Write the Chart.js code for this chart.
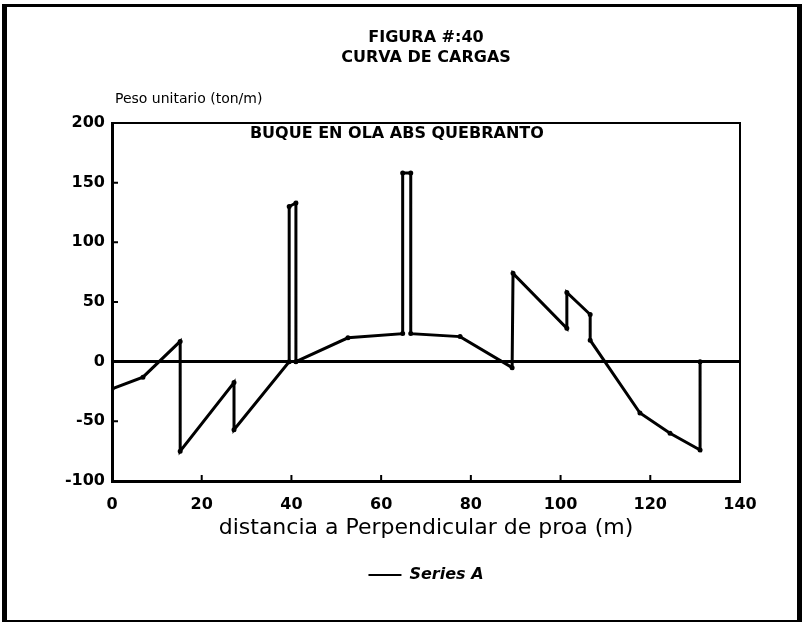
<!DOCTYPE html>
<html>
<head>
<meta charset="utf-8">
<script src="https://cdn.jsdelivr.net/npm/chart.js@4.4.0/dist/chart.umd.min.js"></script>
<style>
  body { margin: 0; background: #fff; }
  #wrap { position: relative; width: 804px; height: 624px; }
  #frame {
    position: absolute; left: 2px; top: 4px; width: 800px; height: 618px;
    box-sizing: border-box; pointer-events: none;
    border-left: 5px solid #000; border-top: 3px solid #000;
    border-right: 5px solid #000; border-bottom: 2px solid #000;
  }
</style>
</head>
<body>
<div id="wrap">
  <canvas id="Curva_Cargas" width="804" height="624"></canvas>
  <div id="frame"></div>
</div>
<script>
// Curva de cargas
const distance = [0, 6.9, 15.2, 15.2, 27.2, 27.2, 39.5, 39.5, 41.0, 41.0, 52.6, 64.8, 64.8, 66.6, 66.6, 77.6, 89.2, 89.4, 101.4, 101.4, 106.6, 106.6, 117.7, 124.4, 131.1, 131.1];
const load = [-22.7, -13, 17, -75, -17.5, -57, 0, 130, 133, 0, 20, 23.5, 158, 158, 23.5, 21, -5, 74, 28, 58, 39.5, 18, -43, -60, -74, 0];

const titleLines = ['FIGURA #:40', 'CURVA DE CARGAS'];
const yLabel = 'Peso unitario (ton/m)';
const xLabel = 'distancia a Perpendicular de proa (m)';
const note = 'BUQUE EN OLA ABS QUEBRANTO';
const seriesName = 'Series A';

const points = distance.map((d, i) => ({ x: d, y: load[i] }));

// frame top/right, inward tick marks, y label and note
const decor = {
    id: 'decor',
    afterDraw(chart) {
        const { ctx, chartArea: a, scales: { x, y } } = chart;
        ctx.save();
        ctx.strokeStyle = '#000';
        ctx.fillStyle = '#000';
        ctx.lineWidth = 2;
        ctx.beginPath();
        ctx.moveTo(a.left, a.top);
        ctx.lineTo(a.right, a.top);
        ctx.lineTo(a.right, a.bottom);
        ctx.stroke();

        ctx.beginPath();
        x.ticks.forEach(t => {
            if (t.value > x.min && t.value < x.max) {
                const px = x.getPixelForValue(t.value);
                ctx.moveTo(px, a.bottom);
                ctx.lineTo(px, a.bottom - 6);
            }
        });
        y.ticks.forEach(t => {
            if (t.value > y.min && t.value < y.max) {
                const py = y.getPixelForValue(t.value);
                ctx.moveTo(a.left, py);
                ctx.lineTo(a.left + 6, py);
            }
        });
        ctx.stroke();

        ctx.font = '14px "DejaVu Sans"';
        ctx.textAlign = 'left';
        ctx.textBaseline = 'alphabetic';
        ctx.fillText(yLabel, a.left + 3, a.top - 20);

        ctx.font = 'bold 16px "DejaVu Sans"';
        ctx.textAlign = 'center';
        ctx.textBaseline = 'middle';
        ctx.fillText(note, x.getPixelForValue(63.5), a.top + 11);
        ctx.restore();
    }
};

Chart.defaults.color = '#000';

new Chart(document.getElementById('Curva_Cargas'), {
    type: 'scatter',
    data: {
        datasets: [{
            label: seriesName,
            data: points,
            showLine: true,
            borderColor: '#000',
            backgroundColor: '#000',
            borderWidth: 3,
            pointRadius: 1.5,
            pointBorderColor: '#000',
            pointBorderWidth: 2,
            tension: 0
        }]
    },
    options: {
        responsive: false,
        animation: false,
        layout: { padding: { left: 0, right: 64, top: 0, bottom: 31 } },
        plugins: {
            title: {
                display: true,
                text: titleLines,
                fullSize: false,
                color: '#000',
                font: { family: 'DejaVu Sans', size: 16, weight: 'bold', lineHeight: 1.25 },
                padding: { top: 28, bottom: 55 }
            },
            legend: {
                position: 'bottom',
                fullSize: false,
                labels: {
                    usePointStyle: true,
                    pointStyle: 'line',
                    pointStyleWidth: 33,
                    padding: 26,
                    color: '#000',
                    font: { family: 'DejaVu Sans', size: 16, weight: 'bold', style: 'italic' }
                }
            },
            tooltip: { enabled: false }
        },
        scales: {
            x: {
                type: 'linear',
                min: 0,
                max: 140,
                afterFit: s => { s.height = 60; },
                ticks: { stepSize: 20, padding: 14, font: { family: 'DejaVu Sans', size: 16, weight: 'bold' } },
                grid: { display: false, drawTicks: false },
                border: { display: true, color: '#000', width: 3 },
                title: {
                    display: true,
                    text: xLabel,
                    padding: { top: 0, bottom: 0 },
                    font: { family: 'DejaVu Sans', size: 22 }
                }
            },
            y: {
                min: -100,
                max: 200,
                afterFit: s => { s.width = 112; },
                ticks: { stepSize: 50, padding: 7, font: { family: 'DejaVu Sans', size: 16, weight: 'bold' } },
                grid: {
                    drawTicks: false,
                    color: c => c.tick && c.tick.value === 0 ? '#000' : 'rgba(0,0,0,0)',
                    lineWidth: c => c.tick && c.tick.value === 0 ? 3 : 0
                },
                border: { display: true, color: '#000', width: 3 }
            }
        }
    },
    plugins: [decor]
});
</script>
</body>
</html>
